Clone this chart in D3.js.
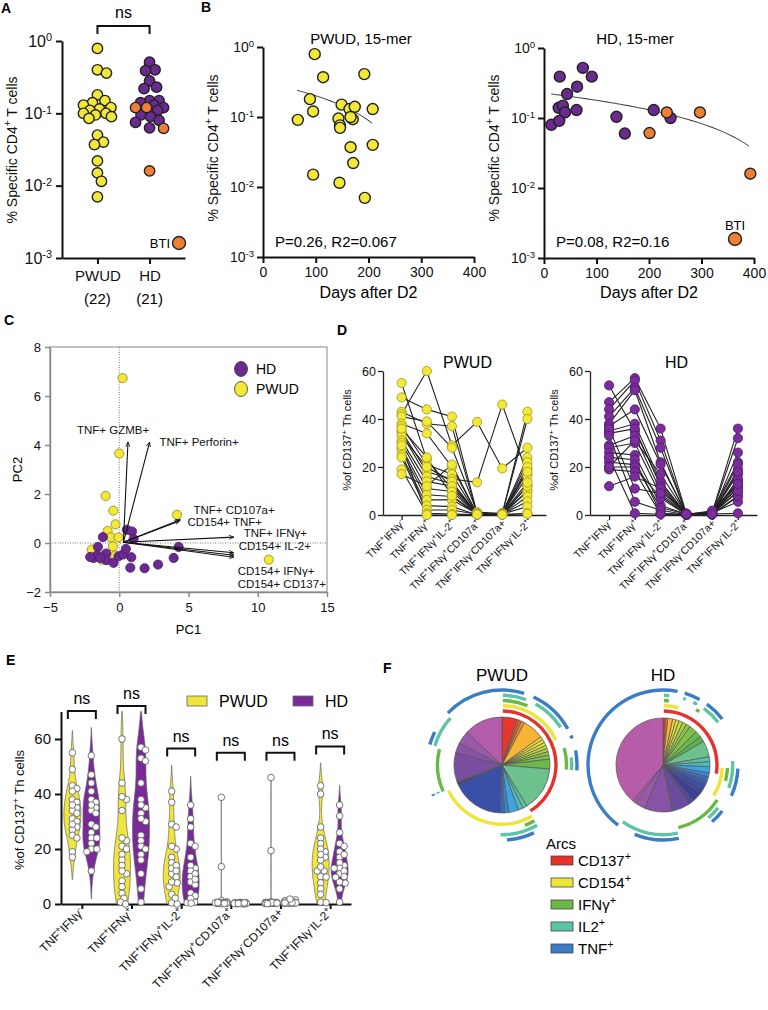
<!DOCTYPE html>
<html>
<head>
<meta charset="utf-8">
<script src="https://cdn.jsdelivr.net/npm/d3@7"></script>
<style>
body { margin: 0; background: #fff; }
</style>
</head>
<body>
<svg id="fig" width="768" height="1010"></svg>
<script>
'use strict';

// ---------- data ----------
// A
var aGroups = ['PWUD', 'HD'];
var aCounts = ['(22)', '(21)'];
var aPwud = [0.79, 0.40, 0.36, 0.18, 0.15, 0.14, 0.13, 0.12, 0.115, 0.11, 0.10, 0.10, 0.095, 0.09, 0.085, 0.05, 0.04, 0.037, 0.022, 0.015, 0.0115, 0.007];
var aHd = [0.51, 0.40, 0.39, 0.28, 0.23, 0.22, 0.15, 0.15, 0.14, 0.13, 0.12, 0.11, 0.095, 0.09, 0.08, 0.075, 0.063, 0.12, 0.12, 0.062, 0.016];
var aHdBti = [0, 0, 0, 0, 0, 0, 0, 0, 0, 0, 0, 0, 0, 0, 0, 0, 0, 1, 1, 1, 1];
var logTicks = [1e-3, 1e-2, 1e-1, 1];

// B
var bPwudDays = [98, 114, 192, 89, 95, 66, 149, 143, 146, 146, 164, 174, 170, 166, 208, 208, 166, 171, 95, 145, 193];
var bPwudVals = [0.79, 0.37, 0.41, 0.18, 0.12, 0.091, 0.15, 0.095, 0.076, 0.07, 0.13, 0.14, 0.093, 0.10, 0.13, 0.04, 0.037, 0.022, 0.015, 0.0115, 0.007];
var bPwudFit = [0.313, -0.00112];
var bPwudFitDays = [65, 208];
var bHdDays = [14, 30, 74, 91, 44, 63, 28, 36, 40, 29, 62, 138, 154, 209, 241, 201, 234, 297, 393];
var bHdVals = [0.080, 0.39, 0.52, 0.39, 0.22, 0.28, 0.14, 0.15, 0.12, 0.091, 0.13, 0.104, 0.060, 0.13, 0.10, 0.061, 0.12, 0.12, 0.016];
var bHdBti = [0, 0, 0, 0, 0, 0, 0, 0, 0, 0, 0, 0, 0, 0, 0, 1, 1, 1, 1];
var bHdFit = [0.2267, -0.000479];
var bHdFitDays = [14, 390];
var bDayTicks = [0, 100, 200, 300, 400];

// C
var cPwudX = [0.24, 0, -0.99, -0.43, -0.27, 4.17, -0.84, -0.6, -0.05, 10.8, -1.98, -0.46, -1.37, -0.29, -1.25];
var cPwudY = [6.73, 3.65, 1.92, 1.32, 0.76, 1.15, 0.49, 0.23, 0.23, -0.68, -0.27, -0.14, -0.54, -0.51, -0.68];
var cHdX = [0.55, 0.92, 1.04, -1.18, -1.54, -1.86, -1.61, -0.94, -0.94, -0.41, -0.05, 0.27, 0.48, 0.87, 0.80, 1.83, 2.8, 3.93, 4.29, -1.37, -2.1];
var cHdY = [0.54, 0.47, 0.16, 0.24, -0.16, -0.61, -0.51, -0.43, -0.70, -0.81, -0.54, -0.47, -0.24, -0.58, -1.01, -1.03, -0.88, -0.61, -0.16, -0.61, -0.57];
var cLoadX = [0.63, 2.19, 4.41, 4.35, 8.27, 8.27, 8.27, 8.27];
var cLoadY = [4.12, 4.12, 0.95, 0.90, 0.24, -0.40, -0.50, -0.58];
var cLabels = ['TNF+ GZMB+', 'TNF+ Perforin+', 'TNF+ CD107a+', 'CD154+ TNF+', 'TNF+ IFNγ+', 'CD154+ IL-2+', 'CD154+ IFNγ+', 'CD154+ CD137+'];
var cLabelX = [-3.05, 2.9, 5.36, 4.93, 8.99, 8.62, 8.55, 8.55];
var cLabelY = [4.45, 3.96, 1.18, 0.69, 0.24, -0.29, -1.31, -1.84];

// D / E  (per category, same subject order)
var catLabels = ['TNF^+^IFNγ^-^', 'TNF^+^IFNγ^+^', 'TNF^+^IFNγ^+^IL-2^+^', 'TNF^+^IFNγ^+^CD107a^+^', 'TNF^+^IFNγ^-^CD107a+', 'TNF^+^IFNγ^-^IL-2^+^'];
var pwudByCat = [
  [55, 49, 43, 42, 41, 38, 37, 35, 34, 33, 31, 30, 28, 27, 25, 24, 19, 17, 36, 29],
  [23, 44, 38, 60, 39, 34, 21, 18, 16, 20, 14, 11, 8.4, 6.3, 3.9, 2.1, 0.7, 12, 24, 0],
  [11, 41, 37, 29, 28, 20, 17, 15, 13, 14, 12, 9.8, 7.7, 6.3, 3.5, 2.1, 0.4, 21, 8, 0],
  [0.5, 0.8, 0.3, 38.8, 1.2, 0.4, 0.2, 13.6, 0.5, 0.3, 0.6, 0.4, 0.2, 0.5, 0.1, 0.3, 0.2, 0.4, 0.5, 0.2],
  [0.3, 0.5, 0.5, 19.4, 0.6, 0.6, 0.3, 46, 0.3, 0.8, 0.5, 0.2, 0.3, 0.4, 0.2, 0.6, 0.4, 0.5, 0.3, 0.1],
  [10, 43, 40, 28, 24, 22, 19, 17, 12, 16, 9.8, 7.7, 5.6, 3.5, 0.7, 20, 12, 13.5, 18, 0.5]
];
var hdByCat = [
  [54, 47, 44, 41, 38, 37, 35, 34, 29, 28, 26, 24, 22, 20, 19, 12, 36, 33, 24, 20],
  [35, 57, 56, 53, 52, 44, 38, 36, 33, 30, 25, 23, 21, 20, 18, 16, 11, 5.5, 0.7, 31],
  [13, 36, 31, 28, 22, 21, 14, 12, 10, 8, 4, 0.7, 3, 7, 0.5, 11, 9, 2, 0.3, 17],
  [0.3, 0.5, 0.2, 0.4, 0.1, 0.6, 0.3, 0.2, 0.5, 0.1, 0.3, 0.2, 0.4, 0.2, 0.1, 0.3, 0.2, 0.1, 0.2, 0.4],
  [0.5, 1.0, 0.8, 0.3, 1.5, 0.4, 0.7, 0.2, 0.5, 1.2, 0.6, 0.3, 0.9, 0.4, 0.2, 0.6, 0.3, 0.5, 1.8, 0.4],
  [14, 36, 32, 26, 22, 19, 17, 15, 13, 11, 9.7, 7.6, 5.5, 0.7, 12, 21, 8, 10, 13, 18]
];

// F  (slice size in degrees, colour, positive markers)
var fPwudDeg = [18, 3, 3, 4, 26, 4, 4, 4, 4, 4, 4, 5, 12, 54, 5, 6, 12, 5, 5, 63, 3, 2, 35, 12, 16, 47];
var fPwudCol = ['#e8362b', '#e9502a', '#ec6a2a', '#f08a2a', '#f6b534', '#f4cf35', '#ede03a', '#dbe23c', '#c3da3e', '#a9d142', '#93c945', '#7fc048', '#6cb84d', '#6dc18c', '#5cc3aa', '#50b9bf', '#3ea3df', '#3b86cf', '#3a6cc0', '#3a50a8', '#3c3f90', '#5b4597', '#7a4fa0', '#8853a6', '#9a58a9', '#b35ca9'];
var fPwudMarks = ['RYGTB', 'RYGT', 'RYG', 'RYB', 'RYTB', 'RYTB', 'RYB', 'RY', 'RB', 'R', 'RG', 'RGB', 'RGTB', 'R', 'YGT', 'YGTB', 'YTB', 'YTB', 'YT', 'Y', 'GTB', 'G', 'G', 'TB', 'T', 'B'];
var fHdDeg = [3, 3, 6, 4, 4, 5, 5, 5, 10, 8, 7, 20, 6, 6, 8, 5, 5, 5, 7, 5, 13, 7, 20, 2, 34, 13, 4, 140];
var fHdCol = ['#e8362b', '#ec6a2a', '#f6b534', '#f4cf35', '#dbe23c', '#c3da3e', '#a9d142', '#93c945', '#7fc048', '#6cb84d', '#5db04f', '#6dc18c', '#5cc3aa', '#50b9bf', '#3ea3df', '#3b86cf', '#3a6cc0', '#3a5cb5', '#3a50a8', '#3c46a0', '#3d3f95', '#5b4597', '#6a4b9e', '#7a4fa0', '#8853a6', '#9a58a9', '#a85aa9', '#b65ca9'];
var fHdMarks = ['RYGTB', 'RYGTB', 'RYB', 'RY', 'RTB', 'RB', 'RTB', 'RG', 'RTB', 'RTB', 'R', 'R', 'R', 'RT', 'RYGTB', 'YGTB', 'YTB', 'YB', 'Y', 'G', 'GTB', 'G', 'G', 'TB', 'TB', 'T', 'B', 'B'];
var fMarkerCodes = ['R', 'Y', 'G', 'T', 'B'];
var fMarkerNames = ['CD137^+^', 'CD154^+^', 'IFNγ^+^', 'IL2^+^', 'TNF^+^'];
var fMarkerCols = ['#e8312a', '#ede53a', '#6bb843', '#5cc5a8', '#3a7cc6'];

// ---------- helpers ----------
var FONT = 'Arial, "Liberation Sans", Helvetica, sans-serif';
var YEL = '#f3e838', PUR = '#6b2a8f', ORG = '#ee7f35';
var svg = d3.select('#fig').attr('font-family', FONT);

function rich(t, str, fs)
{
	var shift = fs * 0.4;
	var up = false;
	str.split('^').forEach(function (s, i) {
		if (s === '') return;
		var sup = (i % 2 === 1);
		var ts = t.append('tspan').text(s);
		if (sup && !up) ts.attr('dy', -shift);
		if (!sup && up) ts.attr('dy', shift);
		if (sup) ts.attr('font-size', fs * 0.72);
		up = sup;
	});
	return t;
}

function logLabels(g)
{
	g.selectAll('.tick text').each(function (d) {
		var t = d3.select(this).text('10');
		t.append('tspan').attr('dy', '-0.5em').attr('font-size', '0.68em').text(Math.round(Math.log10(d)));
	});
}

function styleAxis(g, w, col, fs)
{
	g.attr('font-family', FONT).attr('font-size', fs);
	g.selectAll('path,line').attr('stroke', col).attr('stroke-width', w);
	g.selectAll('text').attr('fill', '#111');
}

// beeswarm offsets: collision radius r, offsets limited to +-maxOff
function swarm(vals, ys, r, maxOff)
{
	var pts = vals.map(function (v, i) { return { i: i, y: ys(v), dx: 0 }; });
	var placed = [];
	pts.slice().sort(function (a, b) { return a.y - b.y; }).forEach(function (p) {
		var best = 0, bestD = -1;
		for (var k = 0; ; k++) {
			var off = (k % 2 ? 1 : -1) * Math.ceil(k / 2) * 0.5;
			if (Math.abs(off) > maxOff) break;
			var dmin = d3.min(placed, function (q) {
				var dx = q.dx - off, dy = q.y - p.y;
				return Math.sqrt(dx * dx + dy * dy);
			});
			if (dmin === undefined) dmin = Infinity;
			if (dmin >= 2 * r) { best = off; bestD = dmin; break; }
			if (dmin > bestD) { bestD = dmin; best = off; }
		}
		p.dx = best;
		placed.push(p);
	});
	return pts;
}

function letter(s, x, y)
{
	svg.append('text').attr('x', x).attr('y', y).attr('font-size', 14).attr('font-weight', 'bold').text(s);
}

function ylabel(g, x, y, str, fs)
{
	var t = g.append('text').attr('transform', 'translate(' + x + ',' + y + ') rotate(-90)')
		.attr('text-anchor', 'middle').attr('font-size', fs).attr('fill', '#111');
	rich(t, str, fs);
}

// ---------- panel A ----------
(function () {
	var g = svg.append('g');
	var y = d3.scaleLog().domain([1e-3, 1]).range([258, 41]);
	var x = d3.scalePoint().domain(aGroups).range([62, 185]).padding(0.68);

	var ya = g.append('g').attr('transform', 'translate(62,0)')
		.call(d3.axisLeft(y).tickValues(logTicks).tickSize(6).tickSizeOuter(0).tickPadding(4));
	logLabels(ya);
	styleAxis(ya, 2, '#111', 16);
	var xa = g.append('g').attr('transform', 'translate(0,258)')
		.call(d3.axisBottom(x).tickSize(6).tickSizeOuter(0).tickPadding(6));
	styleAxis(xa, 2, '#111', 15);
	aCounts.forEach(function (c, i) {
		g.append('text').attr('x', x(aGroups[i])).attr('y', 304).attr('text-anchor', 'middle').attr('font-size', 15).text(c);
	});
	ylabel(g, 17, 150, '% Specific CD4^+^ T cells', 14);

	[[aPwud, null, 'PWUD'], [aHd, aHdBti, 'HD']].forEach(function (s) {
		var sw = swarm(s[0], y, 4.6, 14);
		g.selectAll(null).data(sw).enter().append('circle')
			.attr('cx', function (p) { return x(s[2]) + p.dx; })
			.attr('cy', function (p) { return p.y; })
			.attr('r', 5.2)
			.attr('fill', function (p) { return s[1] ? (s[1][p.i] ? ORG : PUR) : YEL; })
			.attr('stroke', '#222').attr('stroke-width', 1.4);
	});

	g.append('path').attr('d', 'M' + x('PWUD') + ',34V26H' + x('HD') + 'V34')
		.attr('fill', 'none').attr('stroke', '#111').attr('stroke-width', 2);
	g.append('text').attr('x', (x('PWUD') + x('HD')) / 2).attr('y', 18).attr('text-anchor', 'middle').attr('font-size', 16).text('ns');
	g.append('text').attr('x', 170).attr('y', 248).attr('text-anchor', 'end').attr('font-size', 13).text('BTI');
	g.append('circle').attr('cx', 179).attr('cy', 243).attr('r', 6.5).attr('fill', ORG).attr('stroke', '#222').attr('stroke-width', 1.4);
})();

// ---------- panel B ----------
function drawB(o)
{
	var g = svg.append('g');
	var x = d3.scaleLinear().domain([0, 400]).range([o.x0, o.x1]);
	var y = d3.scaleLog().domain([1e-3, 1]).range([o.yb, o.yt]);
	var ya = g.append('g').attr('transform', 'translate(' + o.x0 + ',0)')
		.call(d3.axisLeft(y).tickValues(logTicks).tickSize(6).tickSizeOuter(0).tickPadding(3));
	logLabels(ya);
	styleAxis(ya, 2, '#111', 14);
	var xa = g.append('g').attr('transform', 'translate(0,' + o.yb + ')')
		.call(d3.axisBottom(x).tickValues(bDayTicks).tickSize(6).tickSizeOuter(0).tickPadding(4));
	styleAxis(xa, 2, '#111', 14);
	g.append('text').attr('x', (o.x0 + o.x1) / 2).attr('y', 298).attr('text-anchor', 'middle').attr('font-size', 16).text('Days after D2');
	ylabel(g, o.x0 - 45, 148, '% Specific CD4^+^ T cells', 14);
	g.append('text').attr('x', o.titleX).attr('y', 44).attr('text-anchor', 'middle').attr('font-size', 15).text(o.title);
	g.append('text').attr('x', o.x0 + 12).attr('y', 247).attr('font-size', 15).text(o.stat);

	var fd = d3.range(o.fitDays[0], o.fitDays[1] + 0.1, 2).map(function (d) { return [d, o.fit[0] + o.fit[1] * d]; });
	g.append('path').datum(fd)
		.attr('d', d3.line().x(function (d) { return x(d[0]); }).y(function (d) { return y(d[1]); }))
		.attr('fill', 'none').attr('stroke', '#222').attr('stroke-width', 1);

	g.selectAll(null).data(o.days).enter().append('circle')
		.attr('cx', function (d) { return x(d); })
		.attr('cy', function (d, i) { return y(o.vals[i]); })
		.attr('r', 5.5)
		.attr('fill', function (d, i) { return o.bti && o.bti[i] ? ORG : o.color; })
		.attr('stroke', '#222').attr('stroke-width', 1.4);
}
drawB({ x0: 263, x1: 474, yt: 47, yb: 257, title: 'PWUD, 15-mer', titleX: 361, stat: 'P=0.26, R2=0.067',
	days: bPwudDays, vals: bPwudVals, color: YEL, fit: bPwudFit, fitDays: bPwudFitDays });
drawB({ x0: 544, x1: 754, yt: 48, yb: 258, title: 'HD, 15-mer', titleX: 635, stat: 'P=0.08, R2=0.16',
	days: bHdDays, vals: bHdVals, bti: bHdBti, color: PUR, fit: bHdFit, fitDays: bHdFitDays });
svg.append('text').attr('x', 735).attr('y', 230).attr('text-anchor', 'middle').attr('font-size', 13).text('BTI');
svg.append('circle').attr('cx', 735).attr('cy', 239).attr('r', 6.5).attr('fill', ORG).attr('stroke', '#222').attr('stroke-width', 1.4);

// ---------- panel C ----------
(function () {
	var g = svg.append('g');
	var x = d3.scaleLinear().domain([-5, 15]).range([50, 327]);
	var y = d3.scaleLinear().domain([-2, 8]).range([592, 347]);
	var defs = svg.append('defs');
	defs.append('marker').attr('id', 'arr').attr('viewBox', '0 -4 8 8').attr('refX', 7).attr('refY', 0)
		.attr('markerWidth', 5).attr('markerHeight', 5).attr('orient', 'auto')
		.append('path').attr('d', 'M0,-3L7,0L0,3').attr('fill', 'none').attr('stroke', '#111').attr('stroke-width', 1.2);

	g.append('rect').attr('x', 50).attr('y', 347).attr('width', 277).attr('height', 245)
		.attr('fill', 'none').attr('stroke', '#999').attr('stroke-width', 1.2);
	var ya = g.append('g').attr('transform', 'translate(50,0)')
		.call(d3.axisLeft(y).tickValues([-2, 0, 2, 4, 6, 8]).tickSize(5).tickSizeOuter(0).tickPadding(4));
	styleAxis(ya, 1.5, '#888', 13);
	var xa = g.append('g').attr('transform', 'translate(0,592)')
		.call(d3.axisBottom(x).tickValues([-5, 0, 5, 10, 15]).tickSize(5).tickSizeOuter(0).tickPadding(6));
	styleAxis(xa, 1.5, '#888', 13);
	g.append('line').attr('x1', x(0)).attr('x2', x(0)).attr('y1', 347).attr('y2', 592)
		.attr('stroke', '#777').attr('stroke-width', 1).attr('stroke-dasharray', '1,1.5');
	g.append('line').attr('x1', 50).attr('x2', 327).attr('y1', y(0)).attr('y2', y(0))
		.attr('stroke', '#777').attr('stroke-width', 1).attr('stroke-dasharray', '1,1.5');
	g.append('text').attr('x', x(5)).attr('y', 634).attr('text-anchor', 'middle').attr('font-size', 13).text('PC1');
	g.append('text').attr('transform', 'translate(22,' + y(3) + ') rotate(-90)').attr('text-anchor', 'middle').attr('font-size', 13).text('PC2');

	g.selectAll(null).data(cPwudX).enter().append('circle')
		.attr('cx', function (d) { return x(d); }).attr('cy', function (d, i) { return y(cPwudY[i]); })
		.attr('r', 4.6).attr('fill', YEL).attr('stroke', '#8a8420').attr('stroke-width', 0.8);
	g.selectAll(null).data(cHdX).enter().append('circle')
		.attr('cx', function (d) { return x(d); }).attr('cy', function (d, i) { return y(cHdY[i]); })
		.attr('r', 4.6).attr('fill', PUR).attr('stroke', '#4a1d66').attr('stroke-width', 0.8);

	g.selectAll(null).data(cLoadX).enter().append('line')
		.attr('x1', x(0.3)).attr('y1', y(0.03))
		.attr('x2', function (d) { return x(d); }).attr('y2', function (d, i) { return y(cLoadY[i]); })
		.attr('stroke', '#111').attr('stroke-width', 1.1).attr('marker-end', 'url(#arr)');
	g.selectAll(null).data(cLabels).enter().append('text')
		.attr('x', function (d, i) { return x(cLabelX[i]); }).attr('y', function (d, i) { return y(cLabelY[i]); })
		.attr('font-size', 11.5).attr('fill', '#111').text(function (d) { return d; });

	[['HD', PUR], ['PWUD', YEL]].forEach(function (l, i) {
		g.append('ellipse').attr('cx', 241).attr('cy', 369 + i * 20).attr('rx', 6.5).attr('ry', 7.5)
			.attr('fill', l[1]).attr('stroke', '#333').attr('stroke-width', 0.8);
		g.append('text').attr('x', 256).attr('y', 374 + i * 20).attr('font-size', 14).text(l[0]);
	});
})();

// ---------- panel D ----------
function drawD(o)
{
	var g = svg.append('g');
	var x = d3.scalePoint().domain(d3.range(6)).range([o.x0, o.x1]).padding(0.74);
	var y = d3.scaleLinear().domain([0, 60]).range([515, 371]);
	var ya = g.append('g').attr('transform', 'translate(' + o.x0 + ',0)')
		.call(d3.axisLeft(y).tickValues([0, 20, 40, 60]).tickSize(5).tickSizeOuter(0).tickPadding(2));
	styleAxis(ya, 1.3, '#222', 12.5);
	var xa = g.append('g').attr('transform', 'translate(0,515)')
		.call(d3.axisBottom(x).tickSize(5).tickSizeOuter(0).tickFormat(''));
	styleAxis(xa, 1.3, '#222', 11);
	ylabel(g, o.x0 - 32, 440, '%of CD137^+^ Th cells', 11);
	g.append('text').attr('x', (o.x0 + o.x1) / 2 + 3).attr('y', 368).attr('text-anchor', 'middle').attr('font-size', 16).text(o.title);

	var n = o.data[0].length;
	var subj = d3.range(n).map(function (i) { return o.data.map(function (c, k) { return [k, c[i]]; }); });
	var line = d3.line().x(function (d) { return x(d[0]); }).y(function (d) { return y(d[1]); });
	g.selectAll(null).data(subj).enter().append('path').attr('d', line)
		.attr('fill', 'none').attr('stroke', '#222').attr('stroke-width', 1.1);
	o.data.forEach(function (c, k) {
		g.selectAll(null).data(c).enter().append('circle')
			.attr('cx', x(k)).attr('cy', function (d) { return y(d); }).attr('r', 4.6)
			.attr('fill', o.fill).attr('stroke', o.stroke).attr('stroke-width', 0.8);
	});
	catLabels.forEach(function (s, k) {
		var t = g.append('text').attr('transform', 'translate(' + (x(k) + 4) + ',524) rotate(-45)')
			.attr('text-anchor', 'end').attr('font-size', 10.5).attr('fill', '#111');
		rich(t, s, 10.5);
	});
}
drawD({ x0: 383, x1: 546, title: 'PWUD', data: pwudByCat, fill: YEL, stroke: '#9d9420' });
drawD({ x0: 590, x1: 757, title: 'HD', data: hdByCat, fill: '#7b2d9b', stroke: '#4e1a68' });

// ---------- panel E ----------
function kde(vals)
{
	var s = vals.slice().sort(d3.ascending), n = s.length;
	var sd = d3.deviation(s), iqr = d3.quantile(s, 0.75) - d3.quantile(s, 0.25);
	var bw = 0.9 * Math.min(sd, iqr / 1.34 || sd) * Math.pow(n, -0.2);
	if (!(bw > 0)) bw = 1;
	var lo = Math.max(0, s[0] - 2 * bw), hi = Math.min(70, s[n - 1] + 2 * bw);
	var pts = d3.range(0, 121).map(function (i) {
		var v = lo + (hi - lo) * i / 120;
		return [v, d3.sum(s, function (q) { return Math.exp(-0.5 * Math.pow((v - q) / bw, 2)); })];
	});
	var m = d3.max(pts, function (p) { return p[1]; });
	pts.forEach(function (p) { p[1] /= m; });
	return { pts: pts, hi: hi };
}

(function () {
	var g = svg.append('g');
	var x = d3.scalePoint().domain(d3.range(6)).range([61, 351]).padding(0.42);
	var y = d3.scaleLinear().domain([0, 70]).range([904, 711.5]);
	var ya = g.append('g').attr('transform', 'translate(61,0)')
		.call(d3.axisLeft(y).tickValues([0, 20, 40, 60]).tickSize(6).tickSizeOuter(0).tickPadding(4));
	styleAxis(ya, 2, '#111', 15);
	var xa = g.append('g').attr('transform', 'translate(0,904)')
		.call(d3.axisBottom(x).tickSize(5).tickSizeOuter(0).tickFormat(''));
	styleAxis(xa, 2, '#111', 12);
	ylabel(g, 24, 810, '%of CD137^+^ Th cells', 13);

	var sets = [[pwudByCat, -9.5, '#efe53c'], [hdByCat, 9.5, '#7a2a98']];
	d3.range(6).forEach(function (k) {
		var top = 0;
		sets.forEach(function (s) {
			var cx = x(k) + s[1];
			var kd = kde(s[0][k]);
			top = Math.max(top, kd.hi);
			var area = d3.area().curve(d3.curveBasis)
				.y(function (p) { return y(p[0]); })
				.x0(function (p) { return cx - p[1] * 8.5; })
				.x1(function (p) { return cx + p[1] * 8.5; });
			g.append('path').datum(kd.pts).attr('d', area)
				.attr('fill', s[2]).attr('stroke', '#666').attr('stroke-width', 0.7);
			var sw = swarm(s[0][k], y, 2.6, 6);
			g.selectAll(null).data(sw).enter().append('circle')
				.attr('cx', function (p) { return cx + p.dx; }).attr('cy', function (p) { return p.y; })
				.attr('r', 3.3).attr('fill', '#fff').attr('stroke', '#555').attr('stroke-width', 0.8);
		});
		var bv = y(Math.min(72, Math.max(55, top + 6)));
		var xl = x(k) - 14, xr = x(k) + 14;
		g.append('path').attr('d', 'M' + xl + ',' + (bv + 8) + 'V' + bv + 'H' + xr + 'V' + (bv + 8))
			.attr('fill', 'none').attr('stroke', '#111').attr('stroke-width', 2);
		g.append('text').attr('x', x(k)).attr('y', bv - 7).attr('text-anchor', 'middle').attr('font-size', 16).text('ns');
	});

	catLabels.forEach(function (s, k) {
		var t = g.append('text').attr('transform', 'translate(' + (x(k) + 3) + ',913) rotate(-45)')
			.attr('text-anchor', 'end').attr('font-size', 12).attr('fill', '#111');
		rich(t, s, 12);
	});

	[['PWUD', '#efe53c', 187], ['HD', '#7a2a98', 293]].forEach(function (l) {
		g.append('rect').attr('x', l[2]).attr('y', 696).attr('width', 20).attr('height', 10)
			.attr('fill', l[1]).attr('stroke', '#666').attr('stroke-width', 0.8);
		g.append('text').attr('x', l[2] + 32).attr('y', 707).attr('font-size', 16).text(l[0]);
	});
})();

// ---------- panel F ----------
var ringR = [54, 59.3, 64.5, 69.7, 75];
function drawPie(o)
{
	var g = svg.append('g').attr('transform', 'translate(' + o.cx + ',' + o.cy + ')');
	var pie = d3.pie().sort(null).value(function (d) { return d; })(o.deg);
	var arc = d3.arc().innerRadius(0).outerRadius(o.r);
	g.selectAll(null).data(pie).enter().append('path').attr('d', arc)
		.attr('fill', function (d, i) { return o.colors[i]; })
		.attr('stroke', '#555').attr('stroke-width', 0.7);

	fMarkerCodes.forEach(function (m, k) {
		var runs = [], cur = null;
		pie.forEach(function (p, i) {
			if (o.marks[i].indexOf(m) >= 0) {
				if (cur) cur.end = p.endAngle;
				else { cur = { start: p.startAngle, end: p.endAngle }; runs.push(cur); }
			} else cur = null;
		});
		if (runs.length > 1 && runs[0].start === 0 && Math.abs(runs[runs.length - 1].end - 2 * Math.PI) < 1e-6) {
			var last = runs.pop();
			runs[0].start = last.start - 2 * Math.PI;
		}
		runs.forEach(function (rn) {
			g.append('path').attr('d', d3.arc().innerRadius(ringR[k] - 1.7).outerRadius(ringR[k] + 1.7)
				.startAngle(rn.start + 0.014).endAngle(rn.end - 0.014)())
				.attr('fill', fMarkerCols[k]);
		});
	});
	g.append('text').attr('x', 0).attr('y', -84).attr('text-anchor', 'middle').attr('font-size', 17).text(o.title);
}
drawPie({ cx: 502, cy: 765, r: 48, title: 'PWUD', deg: fPwudDeg, colors: fPwudCol, marks: fPwudMarks });
drawPie({ cx: 663, cy: 765, r: 47, title: 'HD', deg: fHdDeg, colors: fHdCol, marks: fHdMarks });

(function () {
	var g = svg.append('g');
	g.append('text').attr('x', 546).attr('y', 849).attr('font-size', 15).text('Arcs');
	fMarkerNames.forEach(function (s, i) {
		var cy = 860.5 + i * 22;
		g.append('rect').attr('x', 551).attr('y', cy - 4.5).attr('width', 22).attr('height', 9)
			.attr('fill', fMarkerCols[i]).attr('stroke', '#444').attr('stroke-width', 0.8);
		rich(g.append('text').attr('x', 578).attr('y', cy + 5.5).attr('font-size', 15), s, 15);
	});
})();

letter('A', 1, 13);
letter('B', 201, 12);
letter('C', 4, 325);
letter('D', 337, 335);
letter('E', 6, 665);
letter('F', 383, 673);
</script>
</body>
</html>
